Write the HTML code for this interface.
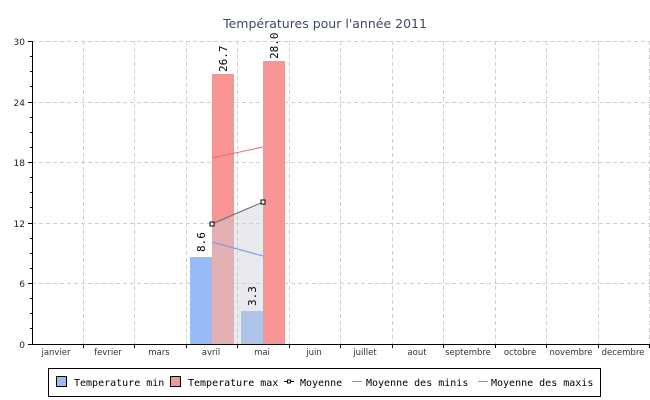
<!DOCTYPE html>
<html><head><meta charset="utf-8"><style>
body{margin:0;background:#fff;}
svg{display:block;font-family:"DejaVu Sans","Liberation Sans",sans-serif;}
</style></head><body>
<svg width="650" height="400" xmlns="http://www.w3.org/2000/svg">
<text x="325" y="28" text-anchor="middle" font-size="12.5" fill="#3c4a6a">Températures pour l'année 2011</text>
<g stroke="#cfcfcf" stroke-dasharray="4,3" stroke-width="1">
<line x1="32" y1="41.5" x2="650" y2="41.5"/><line x1="32" y1="102.5" x2="650" y2="102.5"/>
<line x1="32" y1="162.5" x2="650" y2="162.5"/><line x1="32" y1="223.5" x2="650" y2="223.5"/>
<line x1="32" y1="283.5" x2="650" y2="283.5"/>
<line x1="83.5" y1="41" x2="83.5" y2="344"/><line x1="134.5" y1="41" x2="134.5" y2="344"/>
<line x1="186.5" y1="41" x2="186.5" y2="344"/><line x1="237.5" y1="41" x2="237.5" y2="344"/>
<line x1="289.5" y1="41" x2="289.5" y2="344"/><line x1="340.5" y1="41" x2="340.5" y2="344"/>
<line x1="392.5" y1="41" x2="392.5" y2="344"/><line x1="443.5" y1="41" x2="443.5" y2="344"/>
<line x1="495.5" y1="41" x2="495.5" y2="344"/><line x1="546.5" y1="41" x2="546.5" y2="344"/>
<line x1="598.5" y1="41" x2="598.5" y2="344"/><line x1="649.5" y1="41" x2="649.5" y2="344"/>
</g>
<rect x="190" y="257" width="22" height="87" fill="#96bbf7"/>
<rect x="212" y="74" width="22" height="270" fill="#f79494"/>
<rect x="241" y="311" width="22" height="33" fill="#96bbf7"/>
<rect x="263" y="61" width="22" height="283" fill="#f79494"/>
<polygon points="212,344 212,224 263,202 263,344" fill="rgba(205,208,214,0.45)"/>
<line x1="212" y1="158" x2="263" y2="147" stroke="#f06a6a" stroke-width="1"/>
<line x1="212" y1="242" x2="263" y2="256" stroke="#6f94ee" stroke-width="1"/>
<line x1="212" y1="224" x2="263" y2="202" stroke="#666" stroke-width="1"/>
<rect x="210" y="222" width="4" height="4" fill="#fff" stroke="#000"/>
<rect x="261" y="200" width="4" height="4" fill="#fff" stroke="#000"/>
<g font-family="DejaVu Sans Mono,Liberation Mono,monospace" font-size="11" fill="#000">
<text transform="translate(205,252) rotate(-90)">8.6</text>
<text transform="translate(227,72) rotate(-90)">26.7</text>
<text transform="translate(256,306) rotate(-90)">3.3</text>
<text transform="translate(278,59) rotate(-90)">28.0</text>
</g>
<g stroke="#000" stroke-width="1">
<line x1="32.5" y1="41" x2="32.5" y2="344"/>
<line x1="32" y1="344.5" x2="650" y2="344.5"/>
<line x1="28" y1="41.5" x2="32" y2="41.5"/><line x1="28" y1="102.5" x2="32" y2="102.5"/>
<line x1="28" y1="162.5" x2="32" y2="162.5"/><line x1="28" y1="223.5" x2="32" y2="223.5"/>
<line x1="28" y1="283.5" x2="32" y2="283.5"/><line x1="28" y1="344.5" x2="32" y2="344.5"/>
<path d="M30 56.5h2M30 71.5h2M30 86.5h2M30 117.5h2M30 132.5h2M30 147.5h2M30 177.5h2M30 192.5h2M30 207.5h2M30 238.5h2M30 253.5h2M30 268.5h2M30 298.5h2M30 313.5h2M30 328.5h2"/>
<path d="M83.5 344v4M134.5 344v4M186.5 344v4M237.5 344v4M289.5 344v4M340.5 344v4M392.5 344v4M443.5 344v4M495.5 344v4M546.5 344v4M598.5 344v4M649.5 344v4"/>
</g>
<g font-size="9" fill="#222" text-anchor="end">
<text x="25" y="45">30</text><text x="25" y="106">24</text><text x="25" y="166">18</text>
<text x="25" y="227">12</text><text x="25" y="287">6</text><text x="25" y="348">0</text>
</g>
<g font-size="8.5" fill="#333" text-anchor="middle">
<text x="56" y="355">janvier</text><text x="108" y="355">fevrier</text><text x="159" y="355">mars</text>
<text x="211" y="355">avril</text><text x="262" y="355">mai</text><text x="314" y="355">juin</text>
<text x="365" y="355">juillet</text><text x="417" y="355">aout</text><text x="468" y="355">septembre</text>
<text x="520" y="355">octobre</text><text x="571" y="355">novembre</text><text x="623" y="355">decembre</text>
</g>
<rect x="48.5" y="368.5" width="552" height="28" fill="#fff" stroke="#000"/>
<g font-family="DejaVu Sans Mono,Liberation Mono,monospace" font-size="10" fill="#000">
<rect x="56.5" y="376.5" width="10" height="10" fill="#96bbf7" stroke="#000"/>
<text x="74" y="386">Temperature min</text>
<rect x="170.5" y="376.5" width="10" height="10" fill="#f79494" stroke="#000"/>
<text x="188" y="386">Temperature max</text>
<line x1="284" y1="381.5" x2="294" y2="381.5" stroke="#000"/>
<rect x="287.5" y="380" width="3" height="3" fill="#fff" stroke="#000"/>
<text x="300" y="386">Moyenne</text>
<line x1="352" y1="381.5" x2="362" y2="381.5" stroke="#999"/>
<text x="366" y="386">Moyenne des minis</text>
<line x1="478" y1="381.5" x2="488" y2="381.5" stroke="#999"/>
<text x="491" y="386">Moyenne des maxis</text>
</g>
</svg>
</body></html>
